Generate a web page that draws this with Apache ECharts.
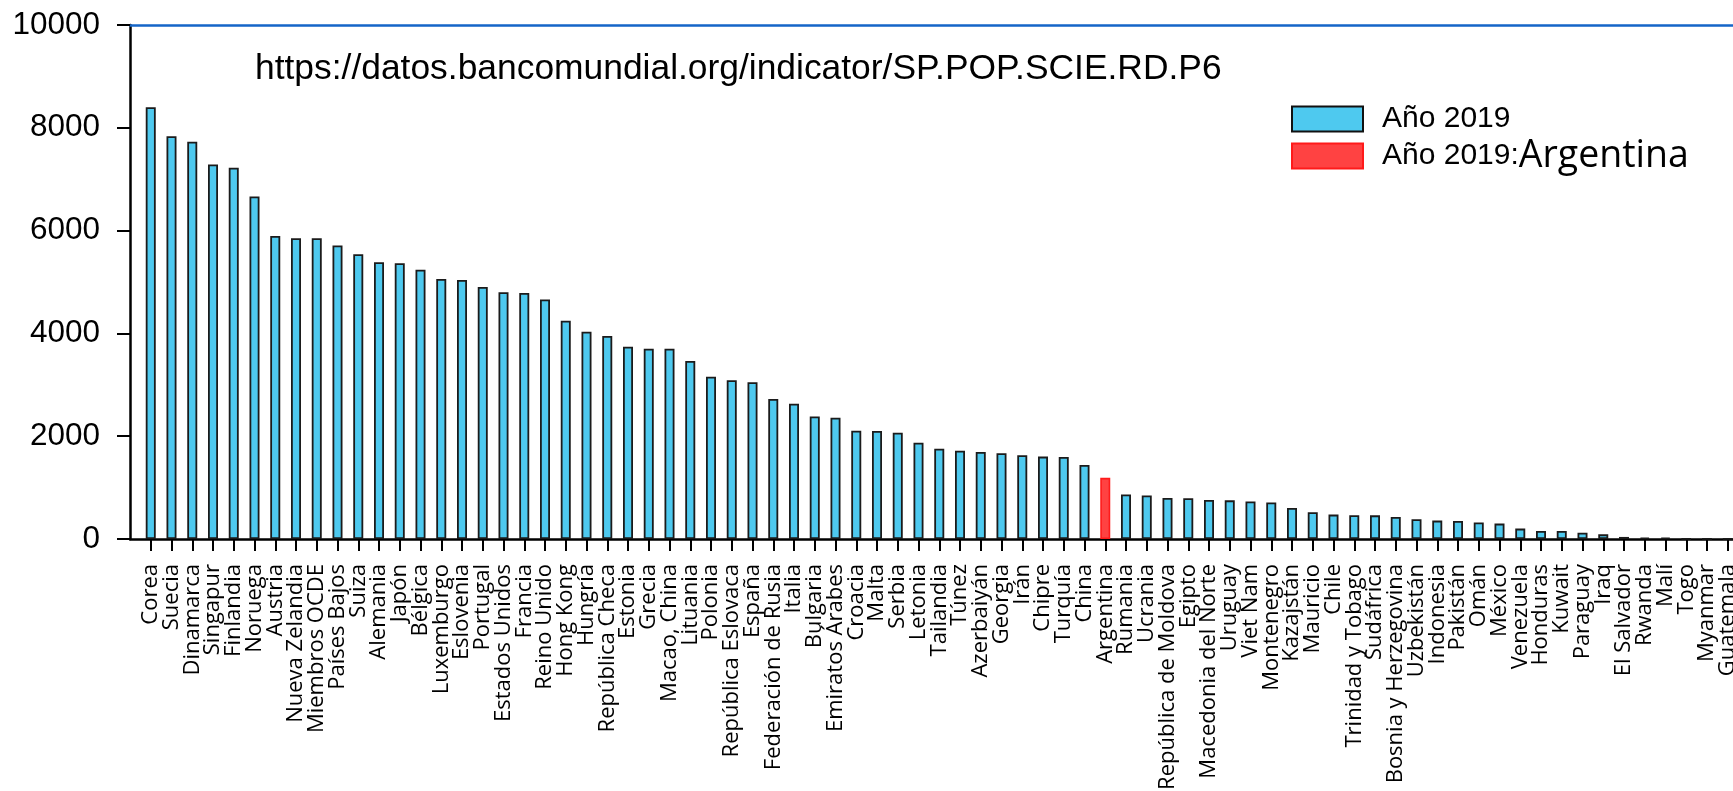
<!DOCTYPE html>
<html>
<head>
<meta charset="utf-8">
<title>Investigadores por millón de habitantes, 2019</title>
<script src="https://cdn.jsdelivr.net/npm/echarts@6/dist/echarts.min.js"></script>
<style>
  html, body { margin: 0; padding: 0; background: #fff; overflow: hidden; }
  #chart { width: 1733px; height: 791px; }
</style>
</head>
<body>
<div id="chart"></div>
<script>
// paises, en orden descendente
var countries = [
  'Corea', 'Suecia', 'Dinamarca', 'Singapur', 'Finlandia', 'Noruega', 'Austria',
  'Nueva Zelandia', 'Miembros OCDE', 'Países Bajos', 'Suiza', 'Alemania', 'Japón',
  'Bélgica', 'Luxemburgo', 'Eslovenia', 'Portugal', 'Estados Unidos', 'Francia',
  'Reino Unido', 'Hong Kong', 'Hungría', 'República Checa', 'Estonia', 'Grecia',
  'Macao, China', 'Lituania', 'Polonia', 'República Eslovaca', 'España',
  'Federación de Rusia', 'Italia', 'Bulgaria', 'Emiratos Árabes', 'Croacia', 'Malta',
  'Serbia', 'Letonia', 'Tailandia', 'Túnez', 'Azerbaiyán', 'Georgia', 'Irán',
  'Chipre', 'Turquía', 'China', 'Argentina', 'Rumania', 'Ucrania',
  'República de Moldova', 'Egipto', 'Macedonia del Norte', 'Uruguay', 'Viet Nam',
  'Montenegro', 'Kazajstán', 'Mauricio', 'Chile', 'Trinidad y Tobago', 'Sudáfrica',
  'Bosnia y Herzegovina', 'Uzbekistán', 'Indonesia', 'Pakistán', 'Omán', 'México',
  'Venezuela', 'Honduras', 'Kuwait', 'Paraguay', 'Iraq', 'El Salvador', 'Rwanda',
  'Malí', 'Togo', 'Myanmar', 'Guatemala'
];

// investigadores por millon
var researchers = [
  8400, 7835, 7730, 7285, 7225, 6665, 5895,
  5850, 5850, 5710, 5540, 5385, 5365,
  5240, 5060, 5040, 4905, 4800, 4785,
  4660, 4248, 4033, 3948, 3740, 3700,
  3700, 3465, 3157, 3088, 3050,
  2724, 2630, 2385, 2360, 2105, 2100,
  2066, 1872, 1758, 1718, 1692, 1668, 1628,
  1603, 1594, 1440, 1190, 865, 846,
  800, 792, 760, 752, 732,
  712, 605, 522, 475, 462, 460,
  430, 384, 358, 350, 320, 300,
  202, 156, 155, 122, 90, 40, 27,
  26, 8, 5, 3
];

var yTicks = [0, 2000, 4000, 6000, 8000, 10000];
var highlight = 'Argentina';
var sourceText = 'https://datos.bancomundial.org/indicator/SP.POP.SCIE.RD.P6';

// un hueco al principio y al final del eje (el final queda fuera del lienzo)
var cats = [''].concat(countries, ['']);
var mainData = [null], argData = [null];
countries.forEach(function (c, i) {
  mainData.push(c === highlight ? null : researchers[i]);
  argData.push(c === highlight ? researchers[i] : null);
});
mainData.push(null);
argData.push(null);

var chart = echarts.init(document.getElementById('chart'));
chart.setOption({
  animation: false,
  backgroundColor: '#fff',
  grid: { left: 130, top: 25, right: -15.5, bottom: 252, outerBoundsMode: 'none' },
  graphic: [{
    type: 'text',
    left: 255,
    top: 52,
    style: {
      text: sourceText,
      fill: '#000',
      font: '35.4px "Liberation Sans", Arial, sans-serif'
    }
  }],
  legend: {
    orient: 'vertical',
    left: 1291,
    top: 104,
    padding: 0,
    itemWidth: 71,
    itemHeight: 25,
    itemGap: 3,
    icon: 'rect',
    data: [
      { name: 'Año 2019', itemStyle: { color: '#4ec9ef', borderColor: '#111', borderWidth: 2 } },
      { name: 'Año 2019:Argentina', itemStyle: { color: '#ff4242', borderColor: '#ff1a1a', borderWidth: 2 } }
    ],
    formatter: function (name) {
      if (name.indexOf(':') > 0) {
        var p = name.split(':');
        return '{a|' + p[0] + ':}{b|' + p[1] + '}';
      }
      return '{a|' + name + '}';
    },
    textStyle: {
      color: '#000',
      padding: [0, 0, 0, 14],
      rich: {
        a: { fontFamily: '"Liberation Sans", Arial, sans-serif', fontSize: 30, lineHeight: 32, color: '#000' },
        b: { fontFamily: '"Open Sans", sans-serif', fontSize: 37.5, lineHeight: 40, color: '#000' }
      }
    }
  },
  xAxis: [{
    type: 'category',
    data: cats,
    boundaryGap: false,
    axisLine: { lineStyle: { color: '#000', width: 2.5 } },
    axisTick: {
      show: true,
      length: 12,
      interval: function (index) { return index > 0 && index < cats.length - 1; },
      lineStyle: { color: '#000', width: 2 }
    },
    axisLabel: {
      interval: 0,
      rotate: 90,
      margin: 25,
      color: '#000',
      fontFamily: '"Open Sans", sans-serif',
      fontSize: 22
    },
    splitLine: { show: false }
  }, {
    type: 'category',
    position: 'top',
    data: cats,
    boundaryGap: false,
    axisLine: { lineStyle: { color: '#1565c8', width: 2.5 } },
    axisTick: { show: false },
    axisLabel: { show: false }
  }],
  yAxis: {
    type: 'value',
    min: yTicks[0],
    max: yTicks[yTicks.length - 1],
    interval: 2000,
    axisLine: { show: true, lineStyle: { color: '#000', width: 2.5 } },
    axisTick: { show: true, length: 13, lineStyle: { color: '#000', width: 2 } },
    axisLabel: {
      margin: 30,
      color: '#000',
      fontFamily: '"Liberation Sans", Arial, sans-serif',
      fontSize: 31.5,
      formatter: function (v) { return String(v); }
    },
    splitLine: { show: false }
  },
  series: [{
    name: 'Año 2019',
    type: 'bar',
    stack: 'y2019',
    barWidth: 10,
    data: mainData,
    itemStyle: { color: '#4ec9ef', borderColor: '#1b1b1b', borderWidth: 1.8 }
  }, {
    name: 'Año 2019:Argentina',
    type: 'bar',
    stack: 'y2019',
    barWidth: 10,
    data: argData,
    itemStyle: { color: '#ff4242', borderColor: '#ff1a1a', borderWidth: 1.6 }
  }]
});
</script>
</body>
</html>
